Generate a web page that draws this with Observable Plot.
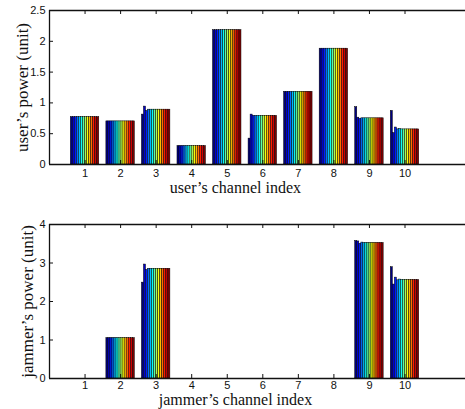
<!DOCTYPE html>
<html><head><meta charset="utf-8">
<script src="https://cdn.jsdelivr.net/npm/d3@7"></script>
<script src="https://cdn.jsdelivr.net/npm/@observablehq/plot@0.6"></script>
<style>
body{margin:0;background:#fff;overflow:hidden;width:465px;height:409px}
#chart svg{display:block}
</style>
</head><body><div id="chart"></div>
<script>
const channels = [1, 2, 3, 4, 5, 6, 7, 8, 9, 10];
const userTicks = [0, 0.5, 1, 1.5, 2, 2.5];
const jammerTicks = [0, 1, 2, 3, 4];

// one row per channel, one value per iteration (14 iterations)
const userPower = [
  [0.77, 0.77, 0.77, 0.77, 0.77, 0.77, 0.77, 0.77, 0.77, 0.77, 0.77, 0.77, 0.77, 0.77],
  [0.70, 0.70, 0.70, 0.70, 0.70, 0.70, 0.70, 0.70, 0.70, 0.70, 0.70, 0.70, 0.70, 0.70],
  [0.81, 0.94, 0.87, 0.89, 0.89, 0.89, 0.89, 0.89, 0.89, 0.89, 0.89, 0.89, 0.89, 0.89],
  [0.30, 0.30, 0.30, 0.30, 0.30, 0.30, 0.30, 0.30, 0.30, 0.30, 0.30, 0.30, 0.30, 0.30],
  [2.18, 2.18, 2.18, 2.18, 2.18, 2.18, 2.18, 2.18, 2.18, 2.18, 2.18, 2.18, 2.18, 2.18],
  [0.42, 0.81, 0.79, 0.79, 0.79, 0.79, 0.79, 0.79, 0.79, 0.79, 0.79, 0.79, 0.79, 0.79],
  [1.18, 1.18, 1.18, 1.18, 1.18, 1.18, 1.18, 1.18, 1.18, 1.18, 1.18, 1.18, 1.18, 1.18],
  [1.88, 1.88, 1.88, 1.88, 1.88, 1.88, 1.88, 1.88, 1.88, 1.88, 1.88, 1.88, 1.88, 1.88],
  [0.93, 0.76, 0.74, 0.75, 0.75, 0.75, 0.75, 0.75, 0.75, 0.75, 0.75, 0.75, 0.75, 0.75],
  [0.87, 0.51, 0.60, 0.57, 0.58, 0.57, 0.57, 0.57, 0.57, 0.57, 0.57, 0.57, 0.57, 0.57]
];
const jammerPower = [
  [0, 0, 0, 0, 0, 0, 0, 0, 0, 0, 0, 0, 0, 0],
  [1.05, 1.05, 1.05, 1.05, 1.05, 1.05, 1.05, 1.05, 1.05, 1.05, 1.05, 1.05, 1.05, 1.05],
  [2.49, 2.96, 2.82, 2.85, 2.85, 2.85, 2.85, 2.85, 2.85, 2.85, 2.85, 2.85, 2.85, 2.85],
  [0, 0, 0, 0, 0, 0, 0, 0, 0, 0, 0, 0, 0, 0],
  [0, 0, 0, 0, 0, 0, 0, 0, 0, 0, 0, 0, 0, 0],
  [0, 0, 0, 0, 0, 0, 0, 0, 0, 0, 0, 0, 0, 0],
  [0, 0, 0, 0, 0, 0, 0, 0, 0, 0, 0, 0, 0, 0],
  [0, 0, 0, 0, 0, 0, 0, 0, 0, 0, 0, 0, 0, 0],
  [3.57, 3.56, 3.50, 3.53, 3.52, 3.52, 3.52, 3.52, 3.52, 3.52, 3.52, 3.52, 3.52, 3.52],
  [2.89, 2.44, 2.62, 2.55, 2.57, 2.56, 2.56, 2.56, 2.56, 2.56, 2.56, 2.56, 2.56, 2.56]
];

function jet(t) {
  const c = v => Math.round(255 * Math.max(0, Math.min(1, v)));
  return `rgb(${c(1.5 - Math.abs(4 * t - 3))},${c(1.5 - Math.abs(4 * t - 2))},${c(1.5 - Math.abs(4 * t - 1))})`;
}

const W = 465, ML = 49, STEP = 35.55;
const serif = "'Liberation Serif', 'Times New Roman', serif";

function chart({values, yMax, yTicks, height, marginTop, marginBottom, xLabel, yLabel, yLabelDx, xLabelDy, tickPad}) {
  const rows = [];
  values.forEach((vals, i) => {
    const n = vals.length, w = 0.8 / n;
    vals.forEach((v, k) => {
      rows.push({x1: channels[i] - 0.4 + k * w, x2: channels[i] - 0.4 + (k + 1) * w, v, color: jet(k / (n - 1))});
    });
  });
  const frameH = height - marginTop - marginBottom;
  const frameW = W - ML;
  return Plot.plot({
    width: W, height, marginTop, marginBottom, marginLeft: ML, marginRight: 0,
    style: {fontFamily: "'Liberation Sans', Arial, sans-serif", fontSize: "11px", color: "#111", background: "#fff", overflow: "hidden"},
    x: {type: "linear", domain: [0, 12], range: [ML, ML + 12 * STEP]},
    y: {domain: [0, yMax]},
    marks: [
      Plot.rect(rows, {x1: "x1", x2: "x2", y1: 0, y2: "v", fill: d => d.color, stroke: "#000", strokeWidth: 0.5}),
      Plot.ruleY([0, yMax], {stroke: "#111", strokeWidth: 1.3}),
      Plot.ruleX([0], {stroke: "#111", strokeWidth: 1.3}),
      Plot.tickX(channels, {x: d => d, insetTop: frameH - 4, stroke: "#111"}),
      Plot.tickX(channels, {x: d => d, insetBottom: frameH - 4, stroke: "#111"}),
      Plot.tickY(yTicks, {y: d => d, insetRight: frameW - 4, stroke: "#111"}),
      Plot.axisX(channels, {tickSize: 0, tickPadding: tickPad, label: null, tickFormat: d => String(d)}),
      Plot.axisY(yTicks, {tickSize: 0, tickPadding: 4, label: null, tickFormat: d => String(d)}),
      Plot.text([xLabel], {x: () => 5.23, text: d => d, frameAnchor: "bottom", textAnchor: "middle", lineAnchor: "middle", dy: xLabelDy, fontFamily: serif, fontSize: 16, letterSpacing: "1.3px", fill: "#111"}),
      Plot.text([yLabel], {text: d => d, frameAnchor: "left", textAnchor: "middle", lineAnchor: "middle", rotate: -90, dx: yLabelDx, fontFamily: serif, fontSize: 17, letterSpacing: "0.5px", fill: "#111"})
    ]
  });
}

const root = document.getElementById("chart");
root.append(chart({
  values: userPower, yMax: 2.5, yTicks: userTicks, height: 200, marginTop: 10, marginBottom: 36,
  xLabel: "user\u2019s channel index", yLabel: "user\u2019s power (unit)", yLabelDx: -27, xLabelDy: 23, tickPad: 5
}));
root.append(chart({
  values: jammerPower, yMax: 4, yTicks: jammerTicks, height: 209, marginTop: 24, marginBottom: 31,
  xLabel: "jammer\u2019s channel index", yLabel: "jammer\u2019s power (unit)", yLabelDx: -22, xLabelDy: 21.5, tickPad: 3
}));
</script>
</body></html>
